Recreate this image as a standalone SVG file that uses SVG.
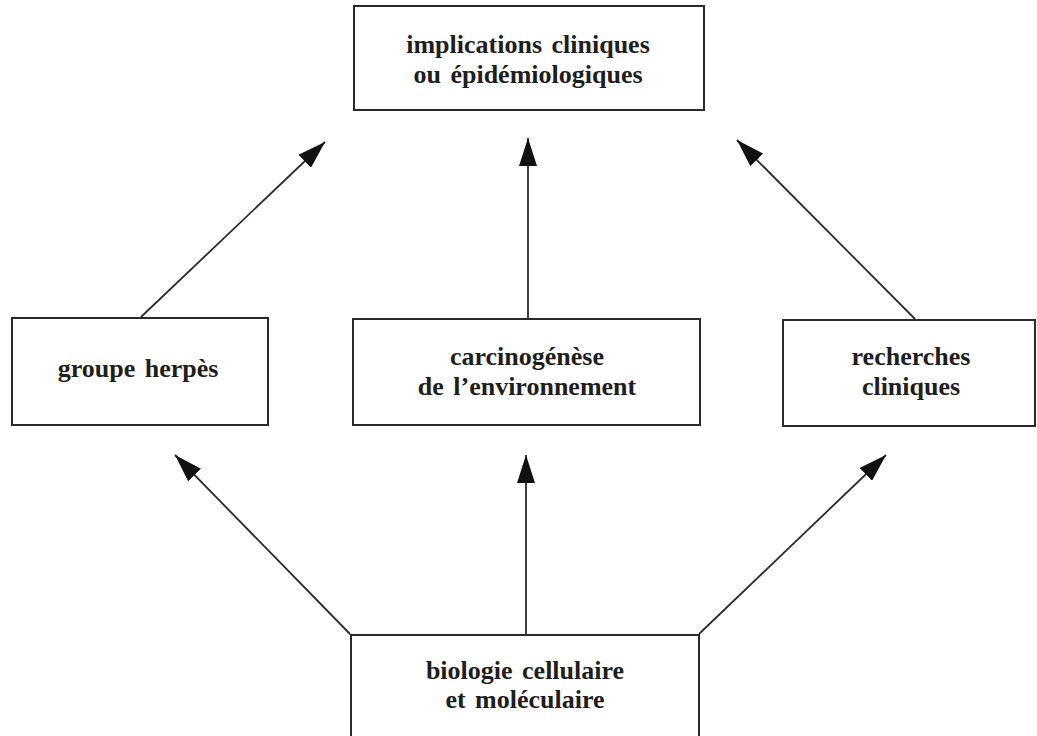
<svg xmlns="http://www.w3.org/2000/svg" width="1037" height="736" viewBox="0 0 1037 736">
<style>
.box{fill:#fff;stroke:#2a2a2a;stroke-width:2}
.lbl{font-family:"Liberation Serif","Times New Roman",serif;font-weight:bold;font-size:26px;fill:#1e1e1e;text-anchor:middle}
.con{stroke:#2a2a2a;stroke-width:1.8;fill:none}
</style>
<defs>
<marker id="ah" viewBox="0 0 28 18" refX="28" refY="9" markerWidth="28" markerHeight="18" markerUnits="userSpaceOnUse" orient="auto">
<path d="M0,0 L28,9 L0,18 Z" fill="#111"/>
</marker>
</defs>
<rect width="1037" height="736" fill="#fff"/>
<g id="connectors">
<line class="con" x1="141" y1="317" x2="325" y2="142" marker-end="url(#ah)"/>
<line class="con" x1="528" y1="319" x2="528" y2="138" marker-end="url(#ah)"/>
<line class="con" x1="915" y1="319" x2="737" y2="140" marker-end="url(#ah)"/>
<line class="con" x1="350" y1="634" x2="175" y2="455" marker-end="url(#ah)"/>
<line class="con" x1="526" y1="634" x2="526" y2="455" marker-end="url(#ah)"/>
<line class="con" x1="699" y1="634" x2="886" y2="455" marker-end="url(#ah)"/>
</g>
<g id="n-implications">
<rect class="box" x="354" y="6" width="350" height="104"/>
<text class="lbl" x="528" y="53" word-spacing="3">implications cliniques</text>
<text class="lbl" x="528" y="83" word-spacing="3">ou épidémiologiques</text>
</g>
<g id="n-herpes">
<rect class="box" x="12" y="318" width="256" height="107"/>
<text class="lbl" x="138" y="377" word-spacing="3">groupe herpès</text>
</g>
<g id="n-carcino">
<rect class="box" x="353" y="319" width="347" height="106"/>
<text class="lbl" x="527" y="365">carcinogénèse</text>
<text class="lbl" x="527" y="395" word-spacing="3">de l’environnement</text>
</g>
<g id="n-recherches">
<rect class="box" x="783" y="320" width="252" height="106"/>
<text class="lbl" x="911" y="365">recherches</text>
<text class="lbl" x="911" y="395">cliniques</text>
</g>
<g id="n-biologie">
<rect class="box" x="351" y="635" width="348" height="110"/>
<text class="lbl" x="525" y="679" word-spacing="3">biologie cellulaire</text>
<text class="lbl" x="525" y="708" word-spacing="3">et moléculaire</text>
</g>
</svg>
